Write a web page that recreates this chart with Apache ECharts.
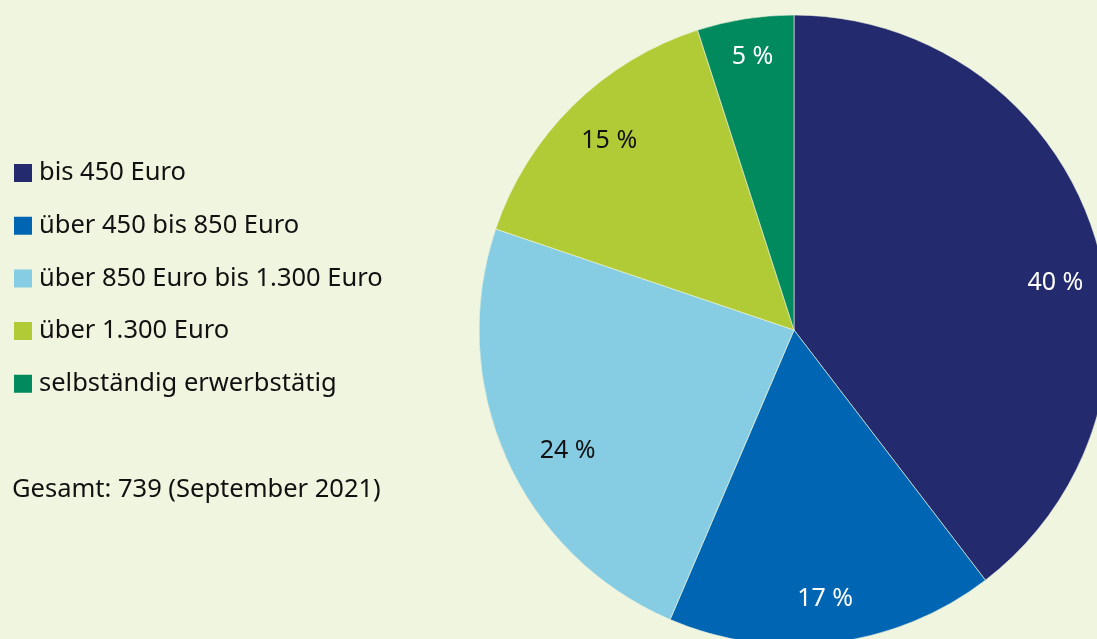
<!DOCTYPE html>
<html>
<head>
<meta charset="utf-8">
<script src="https://cdn.jsdelivr.net/npm/echarts@6/dist/echarts.min.js"></script>
<style>
  html, body { margin: 0; padding: 0; background: #F0F5DF; }
  #chart { width: 1097px; height: 639px; }
</style>
</head>
<body>
<div id="chart"></div>
<script>
const categories = [
  "bis 450 Euro",
  "über 450 bis 850 Euro",
  "über 850 Euro bis 1.300 Euro",
  "über 1.300 Euro",
  "selbständig erwerbstätig",
];
const shares = [40, 17, 24, 15, 5];
const colors = ["#232A6E", "#0066B3", "#86CDE3", "#B1CB37", "#008A5E"];
const labelColors = ["#ffffff", "#ffffff", "#111111", "#111111", "#ffffff"];
const totalNote = "Gesamt: 739 (September 2021)";

const font = "Noto Sans";
const R = 315;
// small nudges so the labels sit where the original put them
const labelOffsets = [[8, 39], [-2, 3], [18, 12], [3, 2], [0, -9]];

const chart = echarts.init(document.getElementById("chart"));

const sliceData = categories.map((name, i) => ({
  name,
  value: shares[i],
  itemStyle: { color: colors[i] },
}));

// transparent copy so the inside labels sit out near the rim
const labelData = categories.map((name, i) => ({
  name,
  value: shares[i],
  label: { color: labelColors[i], offset: labelOffsets[i] },
}));

chart.setOption({
  backgroundColor: "#F0F5DF",
  animation: false,
  title: {
    text: totalNote,
    left: 7,
    top: 472,
    textStyle: { fontFamily: font, fontSize: 25.5, fontWeight: "normal", color: "#111" },
  },
  legend: {
    orient: "vertical",
    left: 7,
    top: 155,
    icon: "rect",
    itemWidth: 20,
    itemHeight: 20,
    itemGap: 26.7,
    data: categories,
    textStyle: { fontFamily: font, fontSize: 25.5, color: "#111", padding: [0, 0, 0, 1] },
  },
  series: [
    {
      type: "pie",
      center: [794, 330],
      radius: [0, R],
      startAngle: 90,
      silent: true,
      label: { show: false },
      labelLine: { show: false },
      itemStyle: { borderColor: "#F0F5DF", borderWidth: 0.6 },
      data: sliceData,
    },
    {
      type: "pie",
      center: [794, 330],
      radius: [R * 0.68, R],
      startAngle: 90,
      silent: true,
      itemStyle: { color: "rgba(0,0,0,0)" },
      label: {
        show: true,
        position: "inside",
        formatter: (p) => p.value + " %",
        fontFamily: font,
        fontSize: 25,
      },
      labelLine: { show: false },
      data: labelData,
    },
  ],
});
</script>
</body>
</html>
